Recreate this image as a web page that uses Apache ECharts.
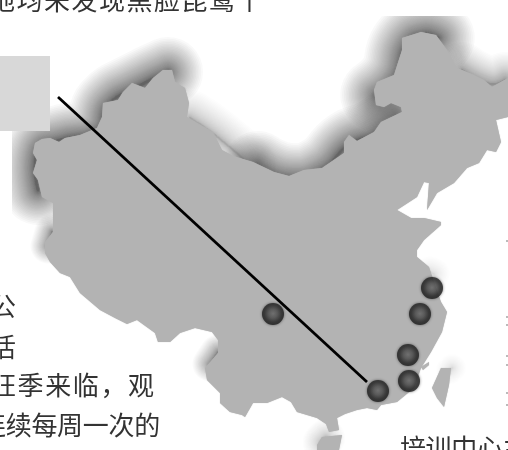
<!DOCTYPE html>
<html>
<head>
<meta charset="utf-8">
<style>html,body{margin:0;padding:0;background:#fff}#c{width:508px;height:450px}</style>
<script src="https://cdn.jsdelivr.net/npm/echarts@6/dist/echarts.min.js"></script>
</head>
<body>
<div id="c"></div>
<script>
// Outline of the mainland
var mainland = [[33,153],[35,143],[42,139],[50,138],[59,142],[65,138],[80,135],[97,128],[102,117],[103,103],[118,100],[123,92],[132,83],[145,88],[153,78],[163,70],[172,70],[175,82],[185,88],[189,103],[187,117],[197,123],[213,132],[222,150],[233,156],[253,162],[274,172],[289,176],[304,170],[322,168],[344,153],[344,142],[349,135],[357,141],[374,132],[381,122],[402,112],[401,107],[391,103],[384,107],[376,105],[374,90],[377,82],[394,75],[402,50],[402,38],[421,32],[436,35],[447,50],[457,68],[474,75],[484,80],[492,87],[508,78],[508,117],[496,120],[501,142],[496,152],[487,150],[479,163],[467,168],[454,183],[437,193],[427,210],[429,183],[424,182],[417,197],[397,210],[411,218],[424,218],[441,222],[441,225],[424,240],[417,250],[417,257],[429,267],[436,288],[441,302],[447,312],[442,332],[431,352],[421,368],[414,388],[397,402],[381,405],[377,410],[367,408],[357,410],[345,414],[337,418],[339,430],[329,432],[326,424],[317,418],[297,412],[291,402],[282,397],[267,403],[253,403],[245,417],[242,415],[230,412],[220,403],[220,393],[207,380],[205,368],[218,353],[218,340],[212,332],[195,328],[180,333],[170,342],[158,342],[155,333],[137,320],[127,324],[115,318],[100,310],[80,293],[70,277],[60,273],[50,262],[45,253],[45,242],[53,232],[53,203],[42,197],[38,180],[33,173],[37,160]];
var taiwan = [[441,368],[451,368],[449,385],[444,407],[437,398],[432,388]];
var hainan = [[317,445],[322,437],[342,435],[339,450],[317,450]];
var islet = [[421,367],[429,362],[429,365],[423,370]];
var landParts = [mainland, taiwan, hainan, islet];

// Dark soft edges on the northern borders
var shadeNorthWest = [[38,190],[38,150],[60,140],[97,130],[108,105],[135,88],[168,72]];
var shadeMongoliaWest = [[190,118],[215,135],[250,165]];
var shadeMongolia = [[258,166],[289,178],[322,170],[348,145],[374,134],[396,118]];
var shadeNorth = [[377,95],[396,76],[406,45],[424,34],[438,38]];
var shadeNorthEast = [[462,70],[490,84],[505,80]];
var shadeSouthWest = [[218,352],[210,364]];
var shadeWest = [[48,246],[52,232]];
var shadeHainan = [[322,442],[326,438]];
var shadeZhejiang = [[430,272],[434,274]];
var shadeTaiwan = [[450,370],[452,368]];
var shadeLines = [shadeNorthWest, shadeMongoliaWest, shadeMongolia, shadeNorth, shadeNorthEast, shadeSouthWest, shadeWest, shadeHainan, shadeZhejiang, shadeTaiwan];
var shadeStrength = [1, 0.35, 1, 1, 0.55, 0.8, 0.8, 0.4, 0.25, 0.25];
var shadeReach = [1, 0.8, 1, 1.05, 0.8, 0.5, 0.5, 0.55, 0.45, 0.4];

// White page margins that cut the soft edges off
var topMargin = [[0,0],[508,16]];
var leftMargin = [[0,131],[12,262]];

var greyBox = [[0,56],[50,131]];
var dividingLine = [[58,97],[367,382]];
var sites = [[432,288],[420,314],[408,355],[409,381],[378,391],[273,314]];
var specks = [[507,241],[507,317],[507,325],[507,356],[507,365],[507,393],[507,405]];

var textStrings = ['地均未发现黑脸琵鹭个','公','活','狂季来临，观','连续每周一次的','培训中心主'];
var textStartX = [-11,-10,-10,-10,-20,400];
var textMidY = [0,306,347,385,425,448];
var textPitch = [27.5,27,27,27.6,25.7,25.6];

var textChars = [];
textStrings.forEach(function(s,i){
  Array.from(s).forEach(function(ch,j){
    textChars.push([textStartX[i]+j*textPitch[i], textMidY[i], ch]);
  });
});

function boxItem(box,api,fill){
  var a=api.coord(box[0]),b=api.coord(box[1]);
  return {type:'rect',shape:{x:a[0],y:a[1],width:b[0]-a[0],height:b[1]-a[1]},style:{fill:fill}};
}

var chart = echarts.init(document.getElementById('c'));
var series = [];
var LAYERS = 44;
series.push({type:'custom',silent:true,z:1,clip:true,data:shadeLines.map(function(l,i){return [i];}),
  renderItem:function(params,api){
    var i = params.dataIndex;
    var pts = shadeLines[i].map(function(p){return api.coord(p);});
    var kids = [];
    for(var k=LAYERS;k>=1;k--){
      kids.push({type:'polyline',shape:{points:pts,smooth:0.5},
        style:{fill:null,stroke:'#444',lineWidth:(2+Math.pow(k/LAYERS,2.3)*68)*shadeReach[i],opacity:0.03*shadeStrength[i],lineCap:'round',lineJoin:'round'}});
    }
    return {type:'group',children:kids};
  }});
series.push({type:'custom',silent:true,z:2,data:[[0],[1]],
  renderItem:function(params,api){
    return boxItem([topMargin,leftMargin][params.dataIndex],api,'#fff');
  }});
series.push({type:'custom',silent:true,z:3,clip:false,data:landParts.map(function(p,i){return [i];}),
  renderItem:function(params,api){
    var pts = landParts[params.dataIndex].map(function(p){return api.coord(p);});
    return {type:'polygon',shape:{points:pts,smooth:0},style:{fill:'#b3b3b3',shadowColor:'#b3b3b3',shadowBlur:1}};
  }});
series.push({type:'custom',silent:true,z:4,data:[[0]],
  renderItem:function(params,api){ return boxItem(greyBox,api,'#d8d8d8'); }});
series.push({type:'line',data:dividingLine,showSymbol:false,silent:true,z:5,lineStyle:{color:'#000',width:2.8}});
series.push({type:'scatter',data:sites,silent:true,z:6,symbol:'circle',symbolSize:22,
  itemStyle:{color:{type:'radial',x:0.5,y:0.48,r:0.5,colorStops:[{offset:0,color:'#747474'},{offset:0.4,color:'#585858'},{offset:0.78,color:'#2e2e2e'},{offset:1,color:'#1e1e1e'}]},shadowColor:'rgba(30,30,30,0.7)',shadowBlur:3}});
series.push({type:'scatter',data:specks,silent:true,z:2,symbol:'rect',symbolSize:1.5,itemStyle:{color:'#666'}});
series.push({type:'custom',silent:true,z:7,clip:true,data:textChars,encode:{x:0,y:1},
  renderItem:function(params,api){
    var p = api.coord([api.value(0),api.value(1)]);
    return {type:'text',style:{text:textChars[params.dataIndex][2],x:p[0],y:p[1],fill:'#333',
      font:'400 26px "Noto Sans CJK SC","Noto Sans",sans-serif',align:'left',verticalAlign:'middle'}};
  }});

chart.setOption({
  animation:false,
  backgroundColor:'#fff',
  grid:{left:0,right:0,top:0,bottom:0},
  xAxis:{type:'value',min:0,max:508,show:false},
  yAxis:{type:'value',min:0,max:450,inverse:true,show:false},
  tooltip:{show:false},
  series:series
});
</script>
</body>
</html>
